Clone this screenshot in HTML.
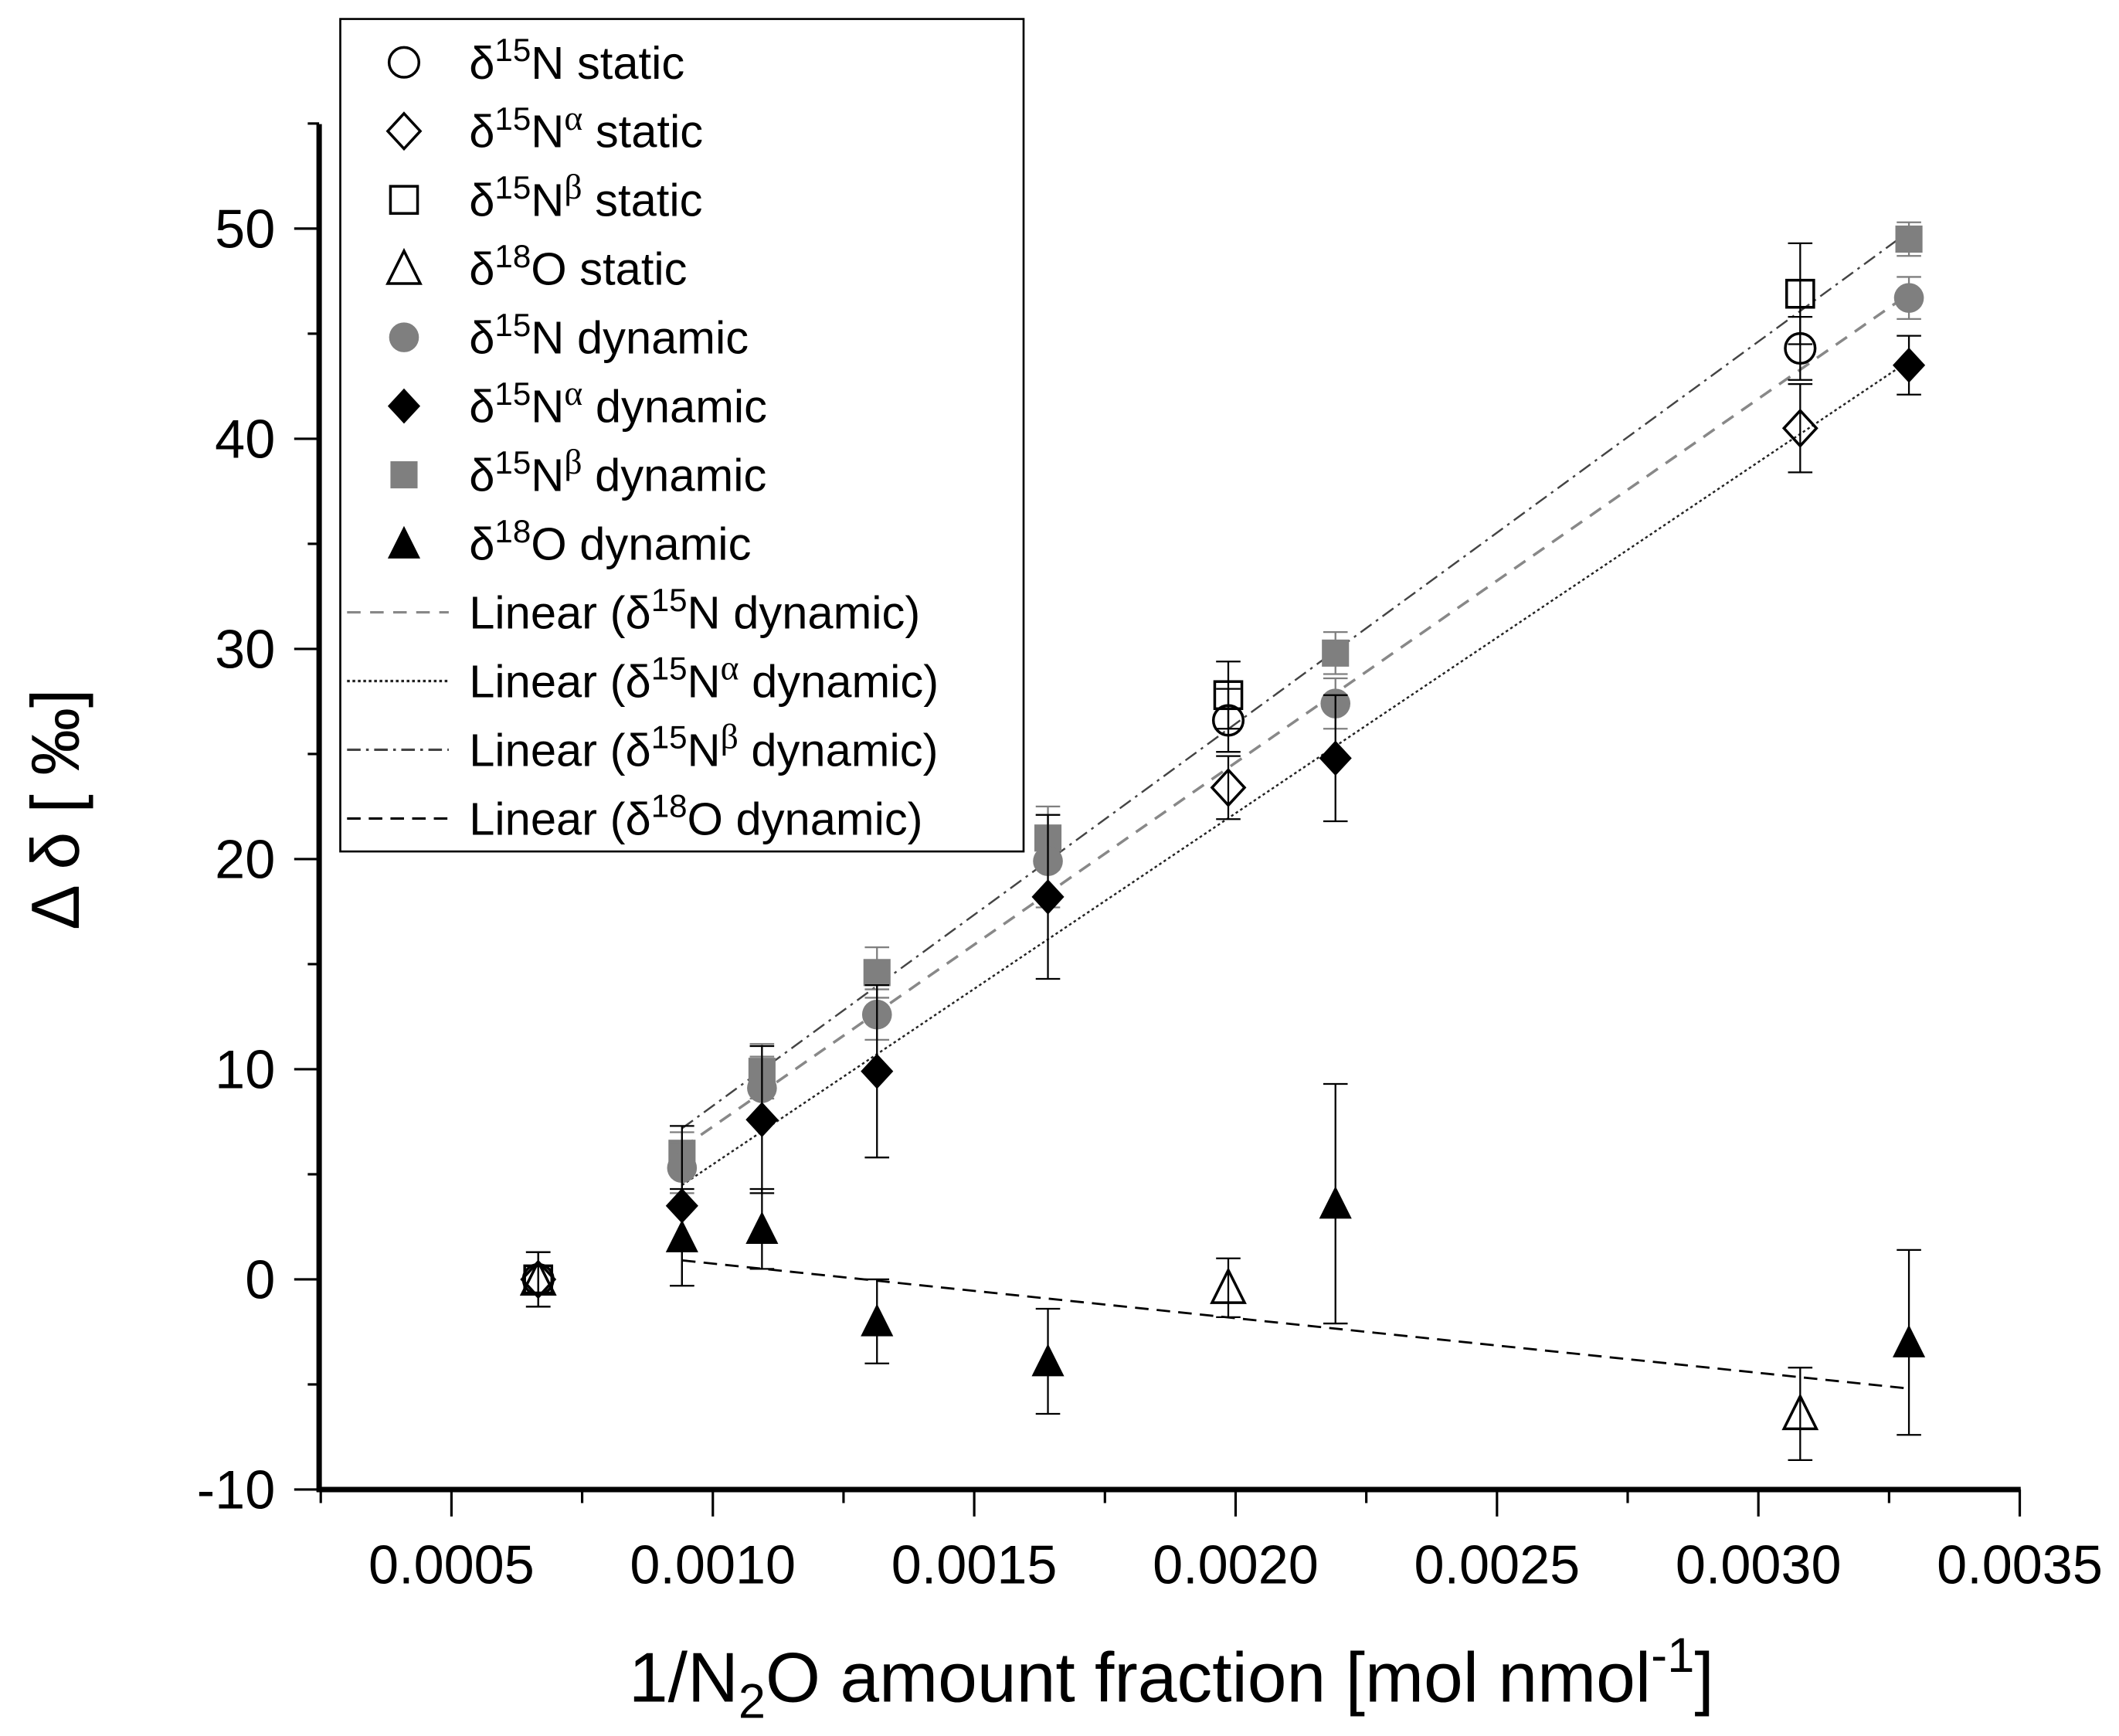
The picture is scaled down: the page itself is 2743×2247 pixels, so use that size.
<!DOCTYPE html>
<html><head><meta charset="utf-8"><style>
html,body{margin:0;padding:0;background:#fff}
svg{display:block}
text{font-family:"Liberation Sans",sans-serif;fill:#000}
.g{font-family:"Liberation Serif",serif}
</style></head><body>
<svg id="c" width="2743" height="2247" viewBox="0 0 1563 1280.4" preserveAspectRatio="none" xmlns="http://www.w3.org/2000/svg"></svg>
<script>
const xTicks = [0.0005, 0.0010, 0.0015, 0.0020, 0.0025, 0.0030, 0.0035];
const xTickLabels = ["0.0005","0.0010","0.0015","0.0020","0.0025","0.0030","0.0035"];
const yTicks = [-10, 0, 10, 20, 30, 40, 50];
const yTickLabels = ["-10","0","10","20","30","40","50"];
// static series
const staticX = [0.000666, 0.001986, 0.00308];
const sN = [0, 26.6, 44.3];        const sNerr = [1.3, 1.5, 1.5];
const sNa = [0, 23.4, 40.5];       const sNaErr = [1.3, 1.5, 2.1];
const sNb = [0, 27.8, 46.9];       const sNbErr = [1.3, 1.6, 2.4];
const sO = [0, -0.4, -6.4];        const sOerr = [1.3, 1.4, 2.2];
// dynamic series
const dynX = [0.000941, 0.001094, 0.001314, 0.001641, 0.002191, 0.003288];
const dN = [5.3, 9.1, 12.6, 19.9, 27.4, 46.7];     const dNerr = [1.2, 1.5, 1.2, 2.2, 1.2, 1.0];
const dNa = [3.5, 7.6, 9.9, 18.2, 24.8, 43.5];     const dNaErr = [3.8, 3.5, 4.1, 3.9, 3.0, 1.4];
const dNb = [6.0, 9.9, 14.6, 21.0, 29.8, 49.5];    const dNbErr = [1.0, 1.3, 1.2, 1.5, 1.0, 0.8];
const dO = [2.0, 2.4, -2.0, -3.9, 3.6, -3.0];      const dOerr = [2.3, 1.9, 2.0, 2.5, 5.7, 4.4];
// trend line for d18O (intercept, slope)
const o18TrendIntercept = [3.35];
const o18TrendSlope = [-2599];

const svg = document.getElementById('c');
const NS = 'http://www.w3.org/2000/svg';
function X(v){ return 333 + (v - 0.0005) / 0.0005 * 192.8; }
function Y(v){ return 943.6 - v * 15.5; }
function mk(tag, attrs, parent){ const e = document.createElementNS(NS, tag); for (const k in attrs) e.setAttribute(k, attrs[k]); (parent||svg).appendChild(e); return e; }

const axes = mk('g', {});


mk('line', {x1:235.4, y1:91.5, x2:235.4, y2:1100.5, stroke:'#000', 'stroke-width':4}, axes);
mk('line', {x1:233.6, y1:1098.6, x2:1490.5, y2:1098.6, stroke:'#000', 'stroke-width':4}, axes);
for (let i = 0; i < 7; i++) {
  const xv = 0.00025 + i * 0.0005;
  mk('line', {x1:X(xv), y1:1098.6, x2:X(xv), y2:1108.6, stroke:'#000', 'stroke-width':1.8}, axes);
}
xTicks.forEach((t, i) => {
  mk('line', {x1:X(t), y1:1098.6, x2:X(t), y2:1118.5, stroke:'#000', 'stroke-width':1.8}, axes);
  const tx = mk('text', {x:X(t), y:1168, 'text-anchor':'middle', 'font-size':40}, axes);
  tx.textContent = xTickLabels[i];
  
  
});
yTicks.forEach((t, i) => {
  mk('line', {x1:217, y1:Y(t), x2:235.4, y2:Y(t), stroke:'#000', 'stroke-width':1.8}, axes);
  if (t < 50) mk('line', {x1:227, y1:Y(t+5), x2:235.4, y2:Y(t+5), stroke:'#000', 'stroke-width':1.8}, axes);
  const ty = mk('text', {x:203, y:Y(t)+14, 'text-anchor':'end', 'font-size':40}, axes);
  ty.textContent = yTickLabels[i];
  
  
});
mk('line', {x1:227, y1:Y(55), x2:235.4, y2:Y(55), stroke:'#000', 'stroke-width':1.8}, axes);

const xt = mk('text', {x:864, y:1255, 'text-anchor':'middle', 'font-size':52});


xt.innerHTML = '1/N<tspan dy="12" font-size="36">2</tspan><tspan dy="-12">O amount fraction [mol nmol</tspan><tspan dy="-22" font-size="36">-1</tspan><tspan dy="22">]</tspan>';
const yt = mk('text', {x:0, y:0, 'text-anchor':'middle', 'font-size':50, transform:'translate(58,597) rotate(-90)'});


yt.textContent = 'Δ δ [ ‰]';

function fit(xs, ys){ const n = xs.length; let sx=0, sy=0, sxx=0, sxy=0; for (let i=0;i<n;i++){sx+=xs[i];sy+=ys[i];sxx+=xs[i]*xs[i];sxy+=xs[i]*ys[i];} const b=(n*sxy-sx*sy)/(n*sxx-sx*sx); return [(sy-b*sx)/n, b]; }
function line(a, b, color, dash, width, name){
  const x0 = dynX[0], x1 = dynX[dynX.length-1];
  const l = mk('line', {x1:X(x0), y1:Y(a+b*x0), x2:X(x1), y2:Y(a+b*x1), stroke:color, 'stroke-width':width, 'stroke-dasharray':dash});
  
  
}
function trend(ys, color, dash, width, name){ const [a, b] = fit(dynX, ys); line(a, b, color, dash, width, name); }
trend(dNb, '#444', '10 4 2 4', 1.4, 'trend-n15-beta');
trend(dN, '#888', '10 7', 2, 'trend-n15');
trend(dNa, '#222', '2 2', 1.4, 'trend-n15-alpha');
line(o18TrendIntercept[0], o18TrendSlope[0], '#000', '10 6', 1.6, 'trend-o18');

const R = 12;
function marker(shape, cx, cy, fill, stroke, g){
  if (shape === 'circle') return mk('circle', {cx, cy, r:R-1, fill, stroke, 'stroke-width':2}, g);
  if (shape === 'diamond') return mk('polygon', {points:`${cx},${cy-R-1} ${cx+R},${cy} ${cx},${cy+R+1} ${cx-R},${cy}`, fill, stroke, 'stroke-width':2}, g);
  if (shape === 'square') return mk('rect', {x:cx-10, y:cy-10, width:20, height:20, fill, stroke, 'stroke-width':2}, g);
  return mk('polygon', {points:`${cx},${cy-R-1} ${cx+R},${cy+R-1} ${cx-R},${cy+R-1}`, fill, stroke, 'stroke-width':2}, g);
}
function series(xs, ys, es, shape, fill, stroke, name){
  const g = mk('g', {});
  
  
  xs.forEach((xv, i) => {
    const cx = X(xv), top = Y(ys[i]+es[i]), bot = Y(ys[i]-es[i]);
    const c = stroke==='none'?fill:'#000';
    mk('line', {x1:cx, y1:top, x2:cx, y2:bot, stroke:c, 'stroke-width':1.3}, g);
    mk('line', {x1:cx-9, y1:top, x2:cx+9, y2:top, stroke:c, 'stroke-width':1.3}, g);
    mk('line', {x1:cx-9, y1:bot, x2:cx+9, y2:bot, stroke:c, 'stroke-width':1.3}, g);
    const m = marker(shape, cx, Y(ys[i]), fill, stroke, g);
    
    
  });
}
series(dynX, dNb, dNbErr, 'square', '#7f7f7f', 'none', 'n15-beta-dynamic');
series(dynX, dN, dNerr, 'circle', '#7f7f7f', 'none', 'n15-dynamic');
series(dynX, dNa, dNaErr, 'diamond', '#000', 'none', 'n15-alpha-dynamic');
series(dynX, dO, dOerr, 'triangle', '#000', 'none', 'o18-dynamic');
series(staticX, sNb, sNbErr, 'square', 'none', '#000', 'n15-beta-static');
series(staticX, sN, sNerr, 'circle', 'none', '#000', 'n15-static');
series(staticX, sNa, sNaErr, 'diamond', 'none', '#000', 'n15-alpha-static');
series(staticX, sO, sOerr, 'triangle', 'none', '#000', 'o18-static');

const lg = mk('g', {});


mk('rect', {x:251, y:14, width:504, height:614, fill:'#fff', stroke:'#000', 'stroke-width':1.5}, lg);
const entries = [
  ['circle','none','#000','δ','15','N',' static'],
  ['diamond','none','#000','δ','15','N','α',' static'],
  ['square','none','#000','δ','15','N','β',' static'],
  ['triangle','none','#000','δ','18','O',' static'],
  ['circle','#7f7f7f','none','δ','15','N',' dynamic'],
  ['diamond','#000','none','δ','15','N','α',' dynamic'],
  ['square','#7f7f7f','none','δ','15','N','β',' dynamic'],
  ['triangle','#000','none','δ','18','O',' dynamic'],
  ['line','#888','10 7','Linear (δ','15','N',' dynamic)'],
  ['line','#222','2 2','Linear (δ','15','N','α',' dynamic)'],
  ['line','#444','10 4 2 4','Linear (δ','15','N','β',' dynamic)'],
  ['line','#000','10 6','Linear (δ','18','O',' dynamic)']
];
entries.forEach((e, i) => {
  const cy = 46 + i * 50.7;
  const eg = mk('g', {}, lg);
  
  
  if (e[0] === 'line') mk('line', {x1:256, y1:cy, x2:331, y2:cy, stroke:e[1], 'stroke-width':1.8, 'stroke-dasharray':e[2]}, eg);
  else marker(e[0], 298, cy, e[1], e[2], eg);
  const t = mk('text', {x:346, y:cy+12, 'font-size':34}, eg);
  let html = e[3] + '<tspan dy="-13" font-size="24">' + e[4] + '</tspan><tspan dy="13">' + e[5] + '</tspan>';
  if (e.length === 8) html += '<tspan dy="-13" font-size="26" class="g">' + e[6] + '</tspan><tspan dy="13">' + e[7] + '</tspan>';
  else html += e[6];
  t.innerHTML = html;
});
</script>
</body></html>
